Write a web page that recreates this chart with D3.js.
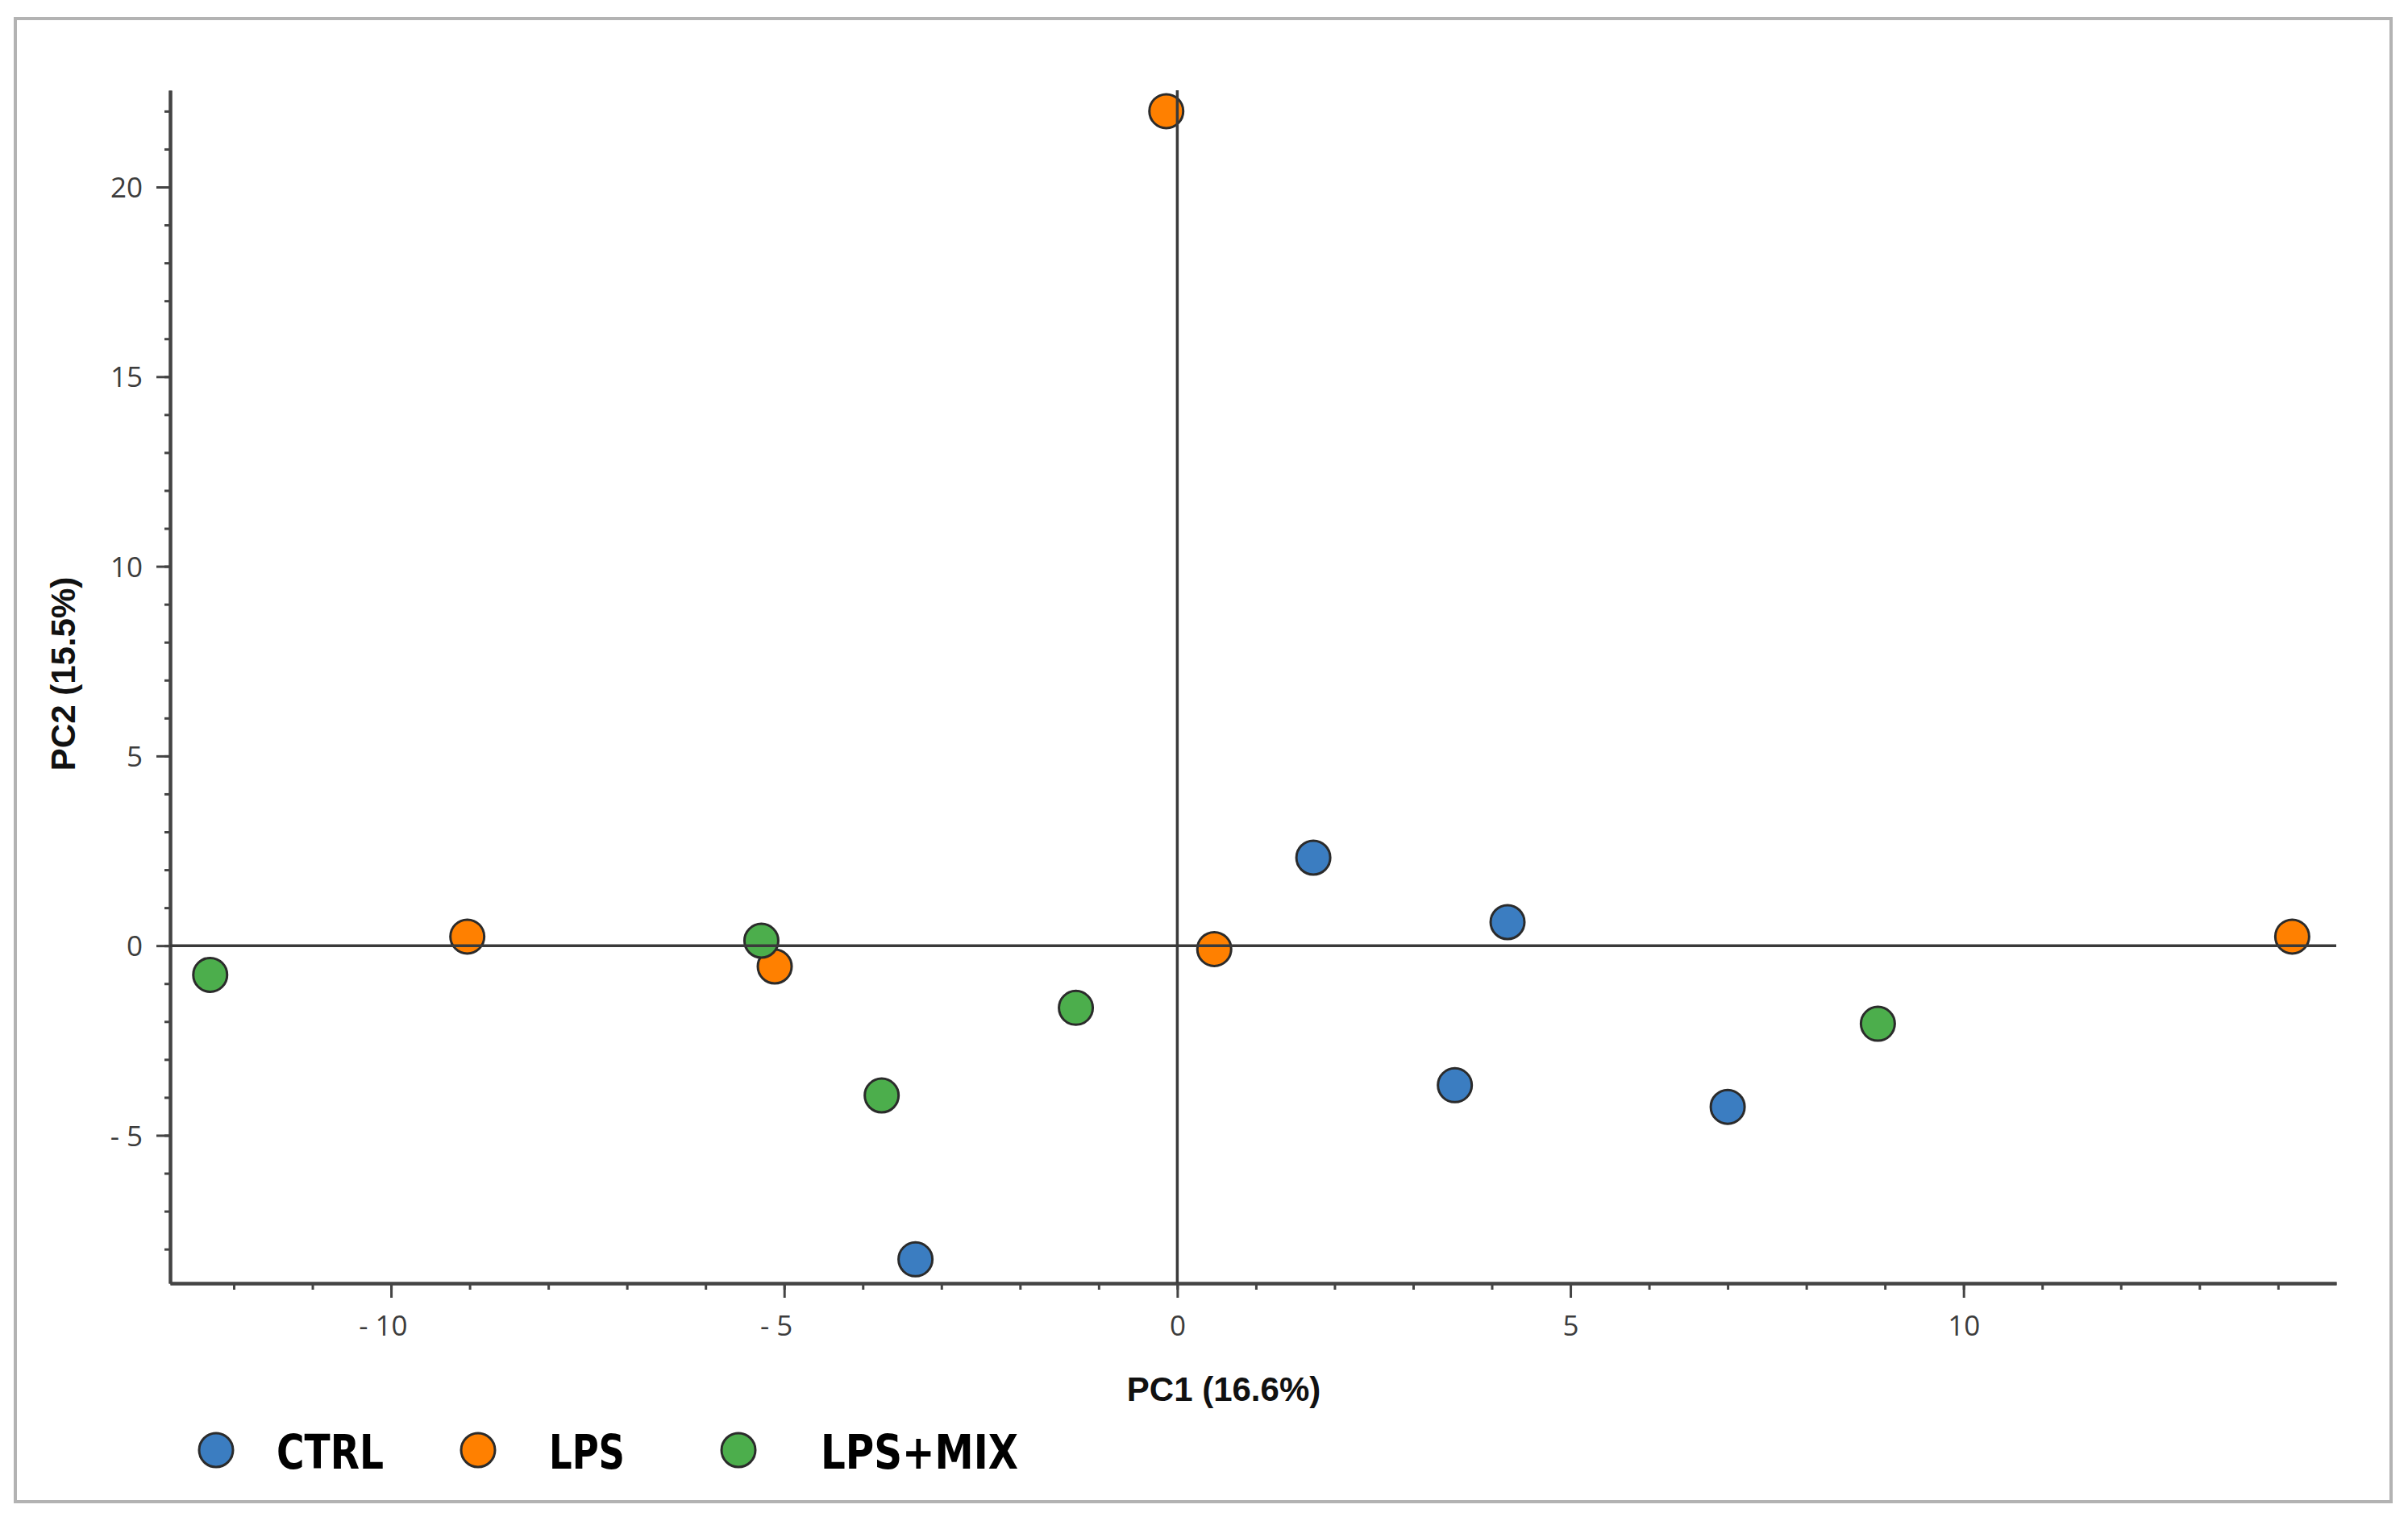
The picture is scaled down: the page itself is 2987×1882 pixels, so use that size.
<!DOCTYPE html>
<html>
<head>
<meta charset="utf-8">
<script src="https://cdn.jsdelivr.net/npm/d3@7"></script>
<style>
  body { margin: 0; background: #fff; }
  .tick-label { font-family: 'Open Sans', 'DejaVu Sans', sans-serif; font-size: 35px; fill: #3c3c3c; }
  .axis-title { font-family: 'Liberation Sans', Arial, sans-serif; font-weight: bold; font-size: 42px; fill: #111; }
  .legend-label { font-family: 'Liberation Sans Narrow', 'DejaVu Sans Condensed', sans-serif; font-stretch: condensed; font-weight: bold; font-size: 58px; fill: #000; }
</style>
</head>
<body>
<svg id="chart"></svg>
<script>
const groups = ['CTRL', 'LPS', 'LPS+MIX']
const groupColors = ['#3b7dc1', '#ff8000', '#4cae4c']

// PC1 / PC2 scores, one array per group
const ctrlPC1 = [1.73, 4.2, 3.53, 7.0, -3.33]
const ctrlPC2 = [2.32, 0.62, -3.68, -4.25, -8.27]
const lpsPC1 = [-0.14, -9.03, -5.12, 0.47, 14.18]
const lpsPC2 = [22.0, 0.24, -0.55, -0.09, 0.24]
const mixPC1 = [-12.3, -5.29, -1.29, -3.76, 8.91]
const mixPC2 = [-0.77, 0.13, -1.64, -3.95, -2.06]

const xMajorTicks = [-10, -5, 0, 5, 10]
const xMinorTicks = d3.range(-12, 15)
const yMajorTicks = [-5, 0, 5, 10, 15, 20]
const yMinorTicks = d3.range(-8, 23)

const xTitle = 'PC1 (16.6%)'
const yTitle = 'PC2 (15.5%)'

const W = 2987
const H = 1882
const plot = { left: 211, right: 2898, top: 112, bottom: 1592 }

const svg = d3.select('#chart').attr('width', W).attr('height', H)

// outer frame
svg.append('rect')
  .attr('x', 19).attr('y', 23)
  .attr('width', 2947).attr('height', 1840)
  .attr('fill', 'none')
  .attr('stroke', '#b3b3b3')
  .attr('stroke-width', 4)

const xScale = d3.scaleLinear().domain([-12.81, 14.74]).range([plot.left, plot.right])
const yScale = d3.scaleLinear().domain([-8.9, 22.55]).range([plot.bottom, plot.top])

const fmt = (d) => d < 0 ? `- ${Math.abs(d)}` : `${d}`

function styleAxis (g) {
  g.select('.domain').attr('stroke', '#444').attr('stroke-width', 4)
  g.selectAll('.tick line').attr('stroke', '#444').attr('stroke-width', 3)
}

// x axis: minor then major ticks
svg.append('g')
  .attr('transform', `translate(0,${plot.bottom})`)
  .call(d3.axisBottom(xScale).tickValues(xMinorTicks).tickSize(8).tickSizeOuter(0).tickFormat(''))
  .call(styleAxis)

const xAxisG = svg.append('g')
  .attr('transform', `translate(0,${plot.bottom})`)
  .call(d3.axisBottom(xScale).tickValues(xMajorTicks).tickSize(18).tickSizeOuter(0).tickPadding(22).tickFormat(fmt))
  .call(styleAxis)
xAxisG.selectAll('.tick text')
  .attr('class', 'tick-label')
  .attr('dx', (d) => d < 0 ? '-0.29em' : 0)

// y axis
svg.append('g')
  .attr('transform', `translate(${plot.left},0)`)
  .call(d3.axisLeft(yScale).tickValues(yMinorTicks).tickSize(7).tickSizeOuter(0).tickFormat(''))
  .call(styleAxis)

const yAxisG = svg.append('g')
  .attr('transform', `translate(${plot.left},0)`)
  .call(d3.axisLeft(yScale).tickValues(yMajorTicks).tickSize(17).tickSizeOuter(0).tickPadding(17).tickFormat(fmt))
  .call(styleAxis)
yAxisG.selectAll('.tick text')
  .attr('class', 'tick-label')
  .attr('dy', '0.36em')

svg.selectAll('.domain').attr('fill', 'none')

// points
const series = [
  { name: groups[0], color: groupColors[0], xs: ctrlPC1, ys: ctrlPC2 },
  { name: groups[1], color: groupColors[1], xs: lpsPC1, ys: lpsPC2 },
  { name: groups[2], color: groupColors[2], xs: mixPC1, ys: mixPC2 }
]

series.forEach((s) => {
  svg.append('g')
    .selectAll('circle')
    .data(d3.zip(s.xs, s.ys))
    .join('circle')
    .attr('cx', (d) => xScale(d[0]))
    .attr('cy', (d) => yScale(d[1]))
    .attr('r', 21)
    .attr('fill', s.color)
    .attr('stroke', '#2b2b2b')
    .attr('stroke-width', 3)
})

// zero lines sit on top of the markers
svg.append('line')
  .attr('x1', xScale.range()[0]).attr('x2', xScale.range()[1])
  .attr('y1', yScale(0)).attr('y2', yScale(0))
  .attr('stroke', '#3a3a3a').attr('stroke-width', 3.5)
svg.append('line')
  .attr('x1', xScale(0)).attr('x2', xScale(0))
  .attr('y1', yScale.range()[1]).attr('y2', yScale.range()[0])
  .attr('stroke', '#3a3a3a').attr('stroke-width', 3.5)

// axis titles
svg.append('text')
  .attr('class', 'axis-title')
  .attr('x', 1518).attr('y', 1738)
  .attr('text-anchor', 'middle')
  .text(xTitle)

svg.append('text')
  .attr('class', 'axis-title')
  .attr('transform', 'translate(93,836) rotate(-90)')
  .attr('text-anchor', 'middle')
  .text(yTitle)

// legend (hand placed like the original, label widths fitted)
const legendDotX = [268, 593, 916]
const legendTextX = [343, 681, 1018]
const legendTextW = [133, 94, 245]
const legend = svg.append('g')
legend.selectAll('circle')
  .data(groups)
  .join('circle')
  .attr('cx', (d, i) => legendDotX[i])
  .attr('cy', 1799)
  .attr('r', 21)
  .attr('fill', (d, i) => groupColors[i])
  .attr('stroke', '#2b2b2b')
  .attr('stroke-width', 3)
legend.selectAll('text')
  .data(groups)
  .join('text')
  .attr('class', 'legend-label')
  .attr('x', (d, i) => legendTextX[i])
  .attr('y', 1822)
  .attr('textLength', (d, i) => legendTextW[i])
  .attr('lengthAdjust', 'spacingAndGlyphs')
  .text((d) => d)
</script>
</body>
</html>
